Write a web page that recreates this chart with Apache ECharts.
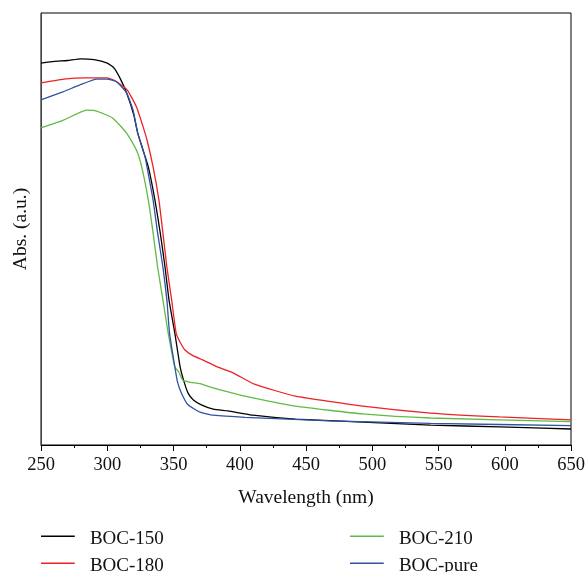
<!DOCTYPE html>
<html><head><meta charset="utf-8">
<script src="https://cdn.jsdelivr.net/npm/echarts@6/dist/echarts.min.js"></script>
<style>html,body{margin:0;padding:0;background:#fff}#c{width:588px;height:572px}</style>
</head><body><div id="c"></div>
<script>
const seriesNames = ['BOC-150', 'BOC-180', 'BOC-210', 'BOC-pure'];
const xTicks = [250, 300, 350, 400, 450, 500, 550, 600, 650];
const boc150 = [[250,0.884],[260,0.888],[270,0.890],[280,0.894],[290,0.892],[300,0.884],[305,0.873],[310,0.847],[315,0.812],[320,0.764],[323,0.722],[327,0.683],[331,0.644],[336,0.567],[340,0.491],[343.6,0.412],[346.6,0.336],[351,0.259],[355,0.181],[358,0.146],[361,0.120],[365,0.104],[371,0.093],[380,0.083],[391,0.079],[410,0.069],[442,0.060],[493,0.053],[544,0.046],[596,0.042],[650,0.037]];
const boc180 = [[250,0.838],[267,0.847],[284,0.850],[300,0.850],[307,0.841],[315,0.822],[322,0.783],[327,0.737],[330,0.706],[334.6,0.644],[339,0.567],[342,0.491],[345,0.412],[348.6,0.336],[352,0.259],[355,0.238],[358.7,0.220],[364,0.208],[372,0.197],[383,0.181],[395,0.167],[411,0.141],[442,0.113],[493,0.090],[544,0.074],[596,0.065],[650,0.058]];
const boc210 = [[250,0.734],[267,0.752],[284.5,0.775],[292,0.773],[304,0.757],[314.6,0.722],[322,0.683],[326,0.644],[331,0.567],[334.6,0.491],[338,0.412],[342,0.336],[346,0.259],[351,0.181],[354,0.169],[357,0.150],[363,0.145],[370,0.142],[378,0.134],[404,0.113],[442,0.090],[493,0.072],[544,0.0625],[650,0.054]];
const bocPure = [[250,0.799],[267,0.818],[279,0.833],[292,0.847],[300,0.847],[307,0.841],[314.6,0.815],[319.5,0.775],[323,0.722],[328.5,0.667],[330,0.644],[334.6,0.567],[338,0.491],[342,0.412],[345,0.336],[347,0.259],[351,0.181],[353,0.146],[356,0.120],[361,0.093],[370,0.076],[380,0.069],[404,0.064],[468,0.056],[544,0.050],[650,0.045]];
const colors = ['#000000', '#ec2227', '#5fbb46', '#2f52a2'];
const datas = [boc150, boc180, boc210, bocPure];

const serif = '"Liberation Serif", "DejaVu Serif", serif';
const chart = echarts.init(document.getElementById('c'));
const legendPos = [[41, 530], [41, 557], [350, 530], [350, 557]];
function legendFor(i) {
  return {
    left: legendPos[i][0], top: legendPos[i][1], data: [seriesNames[i]],
    icon: 'path://M0,0H34V1.4H0Z M0,8H0.05V8.05H0Z', itemWidth: 34, itemHeight: 8, padding: 0,
    textStyle: { fontFamily: serif, fontSize: 19, color: '#111', padding: [0, 0, 0, 10] },
    selectedMode: false
  };
}
chart.setOption({
  animation: false,
  grid: { left: 41, right: 17, top: 13, bottom: 127, show: true, borderColor: '#000', borderWidth: 1 },
  legend: [0, 1, 2, 3].map(legendFor),
  xAxis: {
    type: 'value', min: xTicks[0], max: xTicks[xTicks.length - 1], interval: 50,
    name: 'Wavelength (nm)', nameLocation: 'middle', nameGap: 43,
    nameTextStyle: { fontFamily: serif, fontSize: 19.5, color: '#111' },
    axisLine: { lineStyle: { color: '#000', width: 1 } },
    axisTick: { show: true, inside: false, length: 6, lineStyle: { color: '#000' } },
    minorTick: { show: true, splitNumber: 2, length: 3, lineStyle: { color: '#000' } },
    axisLabel: { fontFamily: serif, fontSize: 18.5, color: '#111', margin: 11 },
    splitLine: { show: false }
  },
  yAxis: {
    type: 'value', min: 0, max: 1,
    name: 'Abs. (a.u.)', nameLocation: 'middle', nameGap: 10, nameRotate: 90,
    nameTextStyle: { fontFamily: serif, fontSize: 19.5, color: '#111' },
    axisLine: { show: true, lineStyle: { color: '#444', width: 1 } },
    axisTick: { show: false }, axisLabel: { show: false }, splitLine: { show: false }
  },
  series: seriesNames.map((n, i) => ({
    name: n, type: 'line', data: datas[i], showSymbol: false, symbol: 'none',
    smooth: 0.15,
    lineStyle: { color: colors[i], width: 1.3 }, itemStyle: { color: colors[i] }
  }))
});
</script></body></html>
